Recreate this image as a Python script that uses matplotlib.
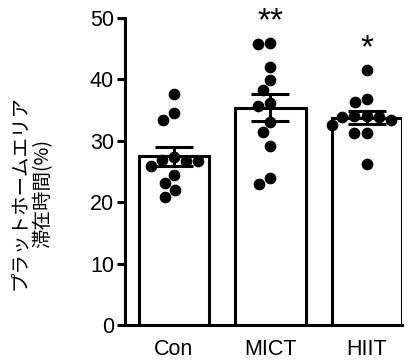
import matplotlib
matplotlib.use('Agg')
import matplotlib.pyplot as plt
import numpy as np

# ---- data ----
groups = ['Con', 'MICT', 'HIIT']
con = [37.6, 34.5, 33.4, 27.3, 26.8, 26.7, 26.7, 25.9, 24.5, 23.1, 22.0, 20.9]
mict = [45.9, 45.7, 42.1, 39.9, 38.3, 36.1, 35.7, 33.1, 31.5, 29.2, 23.9, 23.0]
hiit = [41.5, 36.8, 36.4, 34.0, 34.0, 33.9, 33.8, 33.4, 32.6, 31.2, 31.2, 26.2]
stars = ['', '**', '*']
ylabel = 'プラットホームエリア\n滞在時間(%)'

data = [np.array(con), np.array(mict), np.array(hiit)]
means = [d.mean() for d in data]
sems = [d.std(ddof=1) / np.sqrt(len(d)) for d in data]

W, H = 410, 360
fig = plt.figure(figsize=(W / 100, H / 100), dpi=100)
ax = fig.add_axes([125 / W, 35 / H, 277 / W, 307 / H])
xlim = (-0.508, 2.365)
ax.set_xlim(*xlim)
ax.set_ylim(0, 50)

LW = 2.2
x = np.arange(len(groups))
ax.bar(x, means, width=0.73, color='white', edgecolor='black', linewidth=LW, zorder=1)


def swarm(ypx, d):
    """simple beeswarm: x offsets (px) so that dots d px apart don't overlap"""
    xs = []
    for i, y in enumerate(ypx):
        prev = list(zip(xs, ypx[:i]))
        cands = [0.0]
        for xj, yj in prev:
            dy = abs(y - yj)
            if dy < d:
                dx = np.sqrt(d * d - dy * dy)
                cands += [xj - dx, xj + dx]
        ok = [c for c in cands
              if all((c - xj) ** 2 + (y - yj) ** 2 >= d * d - 1e-6 for xj, yj in prev)]
        xs.append(min(ok, key=abs))
    return np.array(xs)


px_per_x = 277 / (xlim[1] - xlim[0])
px_per_y = 307 / 50
for i, d in enumerate(data):
    off = swarm(d * px_per_y, 12.5) / px_per_x
    ax.plot(x[i] + off, d, 'o', ms=7.4, color='black', mec='black', zorder=2)

ax.errorbar(x, means, yerr=sems, fmt='none', ecolor='black', elinewidth=LW,
            capsize=14, capthick=LW, zorder=3)

for i, s in enumerate(stars):
    if s:
        ax.text(x[i], data[i].max() + 3.5, s, ha='center', va='center',
                fontsize=24, family='Liberation Sans')

for side in ['top', 'right']:
    ax.spines[side].set_visible(False)
for side in ['left', 'bottom']:
    ax.spines[side].set_linewidth(LW)

ax.set_yticks(range(0, 51, 10))
ax.set_xticks(x)
ax.set_xticklabels(groups)
ax.tick_params(axis='y', length=6, width=LW, pad=2, labelsize=15.5)
ax.tick_params(axis='x', length=0, pad=10, labelsize=15.5)
for lab in ax.get_xticklabels() + ax.get_yticklabels():
    lab.set_family('Liberation Sans')

fig.text(31 / W, 1 - 193 / H, ylabel, rotation=90, ha='center', va='center',
         multialignment='center', fontsize=14, family=['Noto Sans CJK JP', 'DejaVu Sans'],
         linespacing=1.15)

fig.savefig('out.png', dpi=100)
